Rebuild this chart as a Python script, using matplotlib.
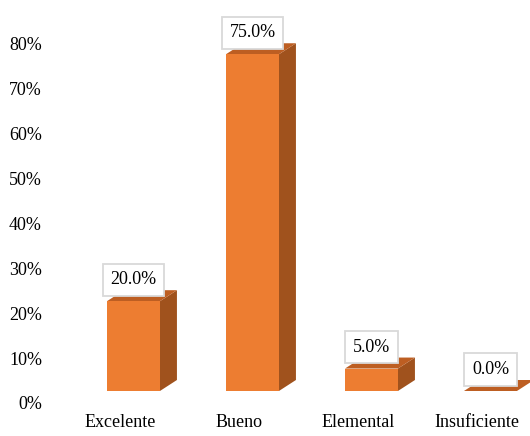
import numpy as np
import matplotlib.pyplot as plt
from matplotlib.patches import Polygon

categories = ["Excelente", "Bueno", "Elemental", "Insuficiente"]
values = [20.0, 75.0, 5.0, 0.0]
tick_values = [0, 10, 20, 30, 40, 50, 60, 70, 80]

front_color = "#ED7D31"
side_color = "#A0521D"
top_color = "#BD5E22"

plt.rcParams['font.family'] = ['Liberation Serif', 'DejaVu Serif']

fig = plt.figure(figsize=(5.3, 4.36), dpi=100)
ax = fig.add_axes([50 / 530, 26 / 436, 480 / 530, 400 / 436])

# 3d look: bar front shifted right of its label, depth goes up-right
off = 0.113
w = 0.445
dx = 0.143
dy = 2.45
floor_shift = 2.67  # axis labels sit below the front floor

x = np.arange(len(categories))
for xi, v in zip(x, values):
    left = xi + off - w / 2
    right = xi + off + w / 2
    side = Polygon([(right, 0), (right + dx, dy), (right + dx, v + dy), (right, v)],
                   closed=True, facecolor=side_color, edgecolor="none")
    top = Polygon([(left, v), (right, v), (right + dx, v + dy), (left + dx, v + dy)],
                  closed=True, facecolor=top_color, edgecolor="none")
    ax.add_patch(side)
    ax.add_patch(top)
ax.bar(x + off, values, width=w, color=front_color, zorder=2)

for xi, v in zip(x, values):
    ax.annotate(f"{v:.1f}%", (xi + off, v), xytext=(0, 15.5), textcoords="offset points",
                ha="center", va="center", fontsize=13, color="#000000", zorder=5,
                bbox=dict(boxstyle="square,pad=0.42", fc="white", ec="#d9d9d9", lw=1.3))

ax.set_xlim((50 - 120) / 119, (530 - 120) / 119)
ax.set_ylim((391 - 410) / 4.49, (391 - 10) / 4.49)

ax.set_xticks(x)
ax.set_xticklabels(categories, fontsize=13)
ax.set_yticks([t - floor_shift for t in tick_values])
ax.set_yticklabels([f"{t}%" for t in tick_values], fontsize=13)
ax.tick_params(axis="both", length=0)
ax.tick_params(axis="y", pad=5.8)
ax.tick_params(axis="x", pad=3)
for s in ax.spines.values():
    s.set_visible(False)

fig.savefig("out.png", dpi=100)
